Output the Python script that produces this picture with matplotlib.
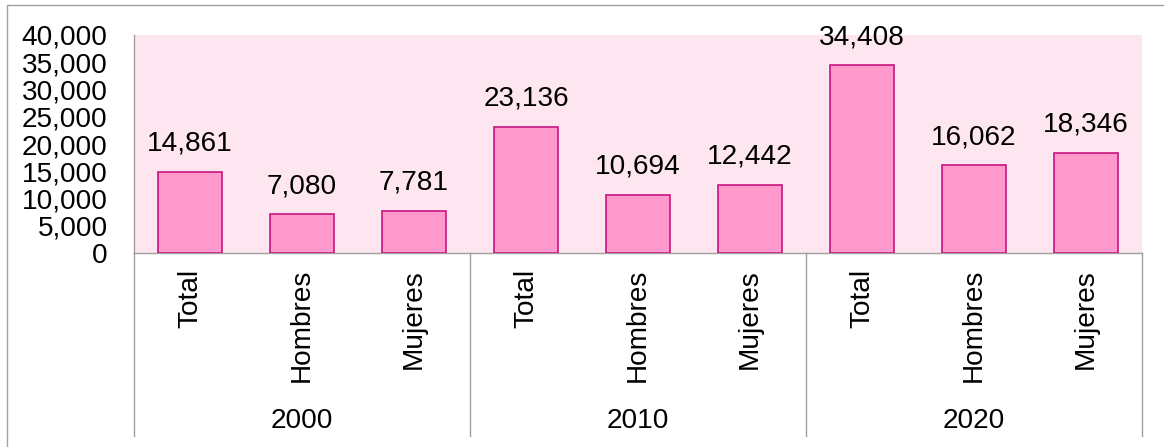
import matplotlib
matplotlib.use("Agg")
import matplotlib.pyplot as plt
from matplotlib.patches import Rectangle
from matplotlib.lines import Line2D
from matplotlib.ticker import FuncFormatter
import matplotlib.transforms as mtransforms

years = ["2000", "2010", "2020"]
groups = ["Total", "Hombres", "Mujeres"]
values = [14861, 7080, 7781, 23136, 10694, 12442, 34408, 16062, 18346]
yticks = [0, 5000, 10000, 15000, 20000, 25000, 30000, 35000, 40000]

plt.rcParams['font.family'] = ['Liberation Sans', 'DejaVu Sans']
FS = 20.2

W, H = 1164, 447
fig = plt.figure(figsize=(W / 100, H / 100), dpi=100)
ax = fig.add_axes([134 / W, 1 - 253 / H, (1142 - 134) / W, (253 - 35) / H])

ax.set_facecolor('#FDE6EF')
x = list(range(len(values)))
ax.bar(x, values, width=0.58, color='#FF99CC', edgecolor='#C8157F', linewidth=1.2, zorder=3)
for xi, v in zip(x, values):
    ax.annotate(f"{v:,}", (xi, v), xytext=(0, 11), textcoords='offset points',
                ha='center', va='bottom', fontsize=FS, color='black')

ax.set_xlim(-0.5, len(values) - 0.5)
ax.set_ylim(0, 40000)
ax.set_yticks(yticks)
ax.yaxis.set_major_formatter(FuncFormatter(lambda v, p: f"{int(v):,}"))
ax.tick_params(axis='y', length=0, pad=19, labelsize=FS)
ax.set_xticks([])
for s in ['top', 'right']:
    ax.spines[s].set_visible(False)
ax.spines['left'].set_color('#A0A0A0')
ax.spines['bottom'].set_color('#A0A0A0')
ax.spines['left'].set_linewidth(1)
ax.spines['bottom'].set_linewidth(1)

trans = mtransforms.blended_transform_factory(ax.transData, fig.transFigure)
for i, xi in enumerate(x):
    ax.text(xi, 1 - 269 / H, groups[i % 3], rotation=90, ha='center', va='top',
            fontsize=FS, transform=trans)
for j, yr in enumerate(years):
    ax.text(3 * j + 1, 1 - 421 / H, yr, ha='center', va='center', fontsize=FS, transform=trans)
for sx in [-0.5, 2.5, 5.5, 8.5]:
    ax.add_line(Line2D([sx, sx], [1 - 253 / H, 1 - 436 / H], transform=trans,
                       color='#A0A0A0', lw=1, clip_on=False))

fig.patches.append(Rectangle((6.5 / W, -0.1), 1.2, 1 - 5.5 / H + 0.1, transform=fig.transFigure,
                             fill=False, edgecolor='#A0A0A0', lw=1))

fig.savefig('out.png', dpi=100)
